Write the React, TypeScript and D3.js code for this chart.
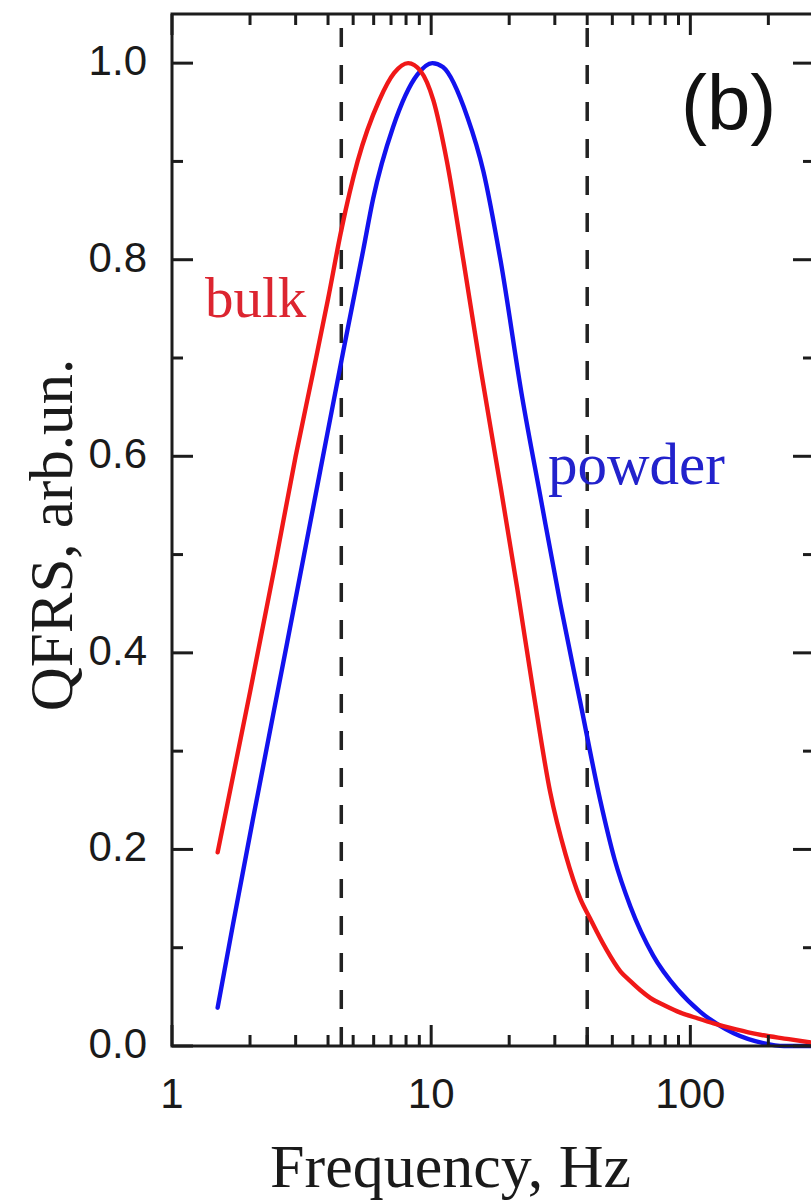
import React from "react";
import * as d3 from "d3";

// Data (frequency in Hz, QFRS in arb. units)
const bulkFreq = [1.5, 2.0, 2.5, 3.0, 3.5, 4.0, 4.5, 5.2, 6.3, 7.2, 8.15, 9.1, 10.2, 11.5, 13.3, 15.5, 18.5, 21.5, 24.8, 28.8, 33, 37.6, 41, 47, 53.7, 58.7, 64, 70, 80, 91.5, 107, 123, 150, 181, 240, 300];
const bulkValue = [0.197, 0.36, 0.49, 0.6, 0.685, 0.76, 0.83, 0.9, 0.962, 0.99, 1.0, 0.992, 0.962, 0.9, 0.8, 0.69, 0.57, 0.465, 0.36, 0.258, 0.195, 0.15, 0.13, 0.1, 0.076, 0.066, 0.057, 0.049, 0.041, 0.034, 0.028, 0.023, 0.017, 0.012, 0.007, 0.003];

const powderFreq = [1.5, 1.72, 2.05, 2.78, 3.73, 4.58, 5.47, 5.97, 7.13, 8.83, 10.1, 11.1, 13.8, 15.9, 18.5, 22.45, 26.35, 31.5, 37.6, 44.9, 51, 58.7, 71.9, 89, 109, 147, 191, 230, 300];
const powderValue = [0.039, 0.124, 0.23, 0.41, 0.585, 0.707, 0.81, 0.862, 0.935, 0.988, 1.0, 0.996, 0.945, 0.89, 0.8, 0.66, 0.56, 0.45, 0.35, 0.25, 0.19, 0.142, 0.092, 0.058, 0.035, 0.013, 0.003, 0.0, 0.0];

const xMajorTicks = [1, 10, 100];
const xMinorTicks = [2, 3, 4, 5, 6, 7, 8, 9, 20, 30, 40, 50, 60, 70, 80, 90, 200];
const yMajorTicks = [0, 0.2, 0.4, 0.6, 0.8, 1.0];
const yMinorTicks = [0.1, 0.3, 0.5, 0.7, 0.9];
const dashedFreqs = [4.5, 40];

const W = 811;
const H = 1202;
const left = 172;
const right = 814;
const top = 14;
const bottom = 1046;

export default function App() {
  const x = d3.scaleLog().domain([1, 300]).range([left, right]);
  const y = d3.scaleLinear().domain([0, 1.05]).range([bottom, top]);

  const line = d3
    .line<[number, number]>()
    .x((d) => x(d[0]))
    .y((d) => y(d[1]))
    .curve(d3.curveMonotoneX);

  const bulk = bulkFreq.map((f, i) => [f, bulkValue[i]] as [number, number]);
  const powder = powderFreq.map((f, i) => [f, powderValue[i]] as [number, number]);

  const axisColor = "#1c1c1c";
  const majorLen = 21;
  const minorLen = 11;

  return (
    <svg
      width={W}
      height={H}
      style={{ position: "absolute", left: 0, top: 0, background: "#fff", overflow: "hidden" }}
    >
      <rect x={0} y={0} width={W} height={H} fill="#fff" />

      {/* dashed vertical lines */}
      {dashedFreqs.map((f) => (
        <line
          key={"d" + f}
          x1={x(f)}
          x2={x(f)}
          y1={y(0)}
          y2={y(1.05)}
          stroke="#222"
          strokeWidth={3.5}
          strokeDasharray="19 18"
        />
      ))}

      {/* curves */}
      <path d={line(powder) ?? ""} fill="none" stroke="#1212ee" strokeWidth={4.4} strokeLinejoin="round" strokeLinecap="round" />
      <path d={line(bulk) ?? ""} fill="none" stroke="#f01818" strokeWidth={4.4} strokeLinejoin="round" strokeLinecap="round" />

      {/* frame */}
      <rect x={left} y={top} width={right - left} height={bottom - top} fill="none" stroke={axisColor} strokeWidth={3} />

      {/* x ticks bottom & top (inward) */}
      {xMajorTicks.map((t) => (
        <g key={"xM" + t}>
          <line x1={x(t)} x2={x(t)} y1={bottom} y2={bottom - majorLen} stroke={axisColor} strokeWidth={3} />
          <line x1={x(t)} x2={x(t)} y1={top} y2={top + majorLen} stroke={axisColor} strokeWidth={3} />
          <text
            x={x(t)}
            y={bottom + 62}
            textAnchor="middle"
            fontFamily="'Liberation Sans', Arial, sans-serif"
            fontSize={42}
            fill="#1a1a1a"
          >
            {t}
          </text>
        </g>
      ))}
      {xMinorTicks.map((t) => (
        <g key={"xm" + t}>
          <line x1={x(t)} x2={x(t)} y1={bottom} y2={bottom - minorLen} stroke={axisColor} strokeWidth={3} />
          <line x1={x(t)} x2={x(t)} y1={top} y2={top + minorLen} stroke={axisColor} strokeWidth={3} />
        </g>
      ))}

      {/* y ticks left & right (inward) */}
      {yMajorTicks.map((t) => (
        <g key={"yM" + t}>
          <line x1={left} x2={left + majorLen} y1={y(t)} y2={y(t)} stroke={axisColor} strokeWidth={3} />
          <line x1={right} x2={right - majorLen} y1={y(t)} y2={y(t)} stroke={axisColor} strokeWidth={3} />
          <text
            x={147}
            y={y(t) + 12}
            textAnchor="end"
            fontFamily="'Liberation Sans', Arial, sans-serif"
            fontSize={42}
            fill="#1a1a1a"
          >
            {t.toFixed(1)}
          </text>
        </g>
      ))}
      {yMinorTicks.map((t) => (
        <g key={"ym" + t}>
          <line x1={left} x2={left + minorLen} y1={y(t)} y2={y(t)} stroke={axisColor} strokeWidth={3} />
          <line x1={right} x2={right - minorLen} y1={y(t)} y2={y(t)} stroke={axisColor} strokeWidth={3} />
        </g>
      ))}

      {/* axis titles */}
      <text
        x={270}
        y={1187}
        textAnchor="start"
        fontFamily="'Liberation Serif', 'Times New Roman', serif"
        fontSize={62}
        fill="#1a1a1a"
      >
        Frequency, Hz
      </text>
      <text
        transform={`translate(72, 535) rotate(-90)`}
        textAnchor="middle"
        fontFamily="'Liberation Serif', 'Times New Roman', serif"
        fontSize={61}
        fill="#1a1a1a"
      >
        QFRS, arb.un.
      </text>

      {/* annotations */}
      <text x={205} y={317} fontFamily="'Liberation Serif', 'Times New Roman', serif" fontSize={57} fill="#dc2530">
        bulk
      </text>
      <text x={548} y={484} fontFamily="'Liberation Serif', 'Times New Roman', serif" fontSize={59} fill="#2222cc">
        powder
      </text>
      <text x={681} y={130} fontFamily="'Liberation Sans', Arial, sans-serif" fontSize={78} fill="#111">
        (b)
      </text>
    </svg>
  );
}
